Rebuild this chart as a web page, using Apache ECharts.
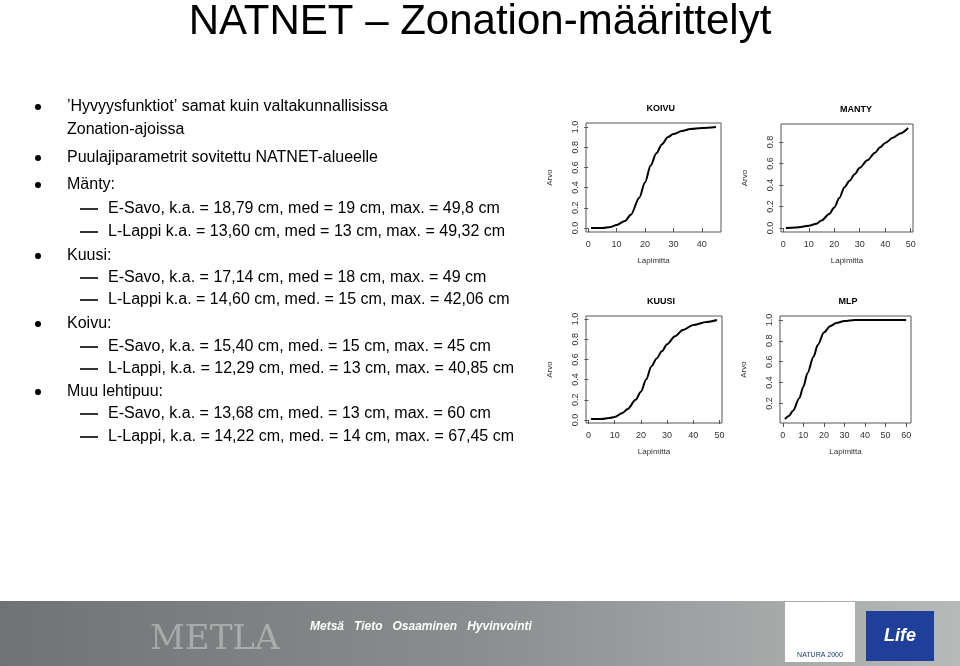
<!DOCTYPE html>
<html><head><meta charset="utf-8">
<script src="https://cdn.jsdelivr.net/npm/echarts@6/dist/echarts.min.js"></script>
<style>html,body{margin:0;padding:0;background:#fff}#c{width:960px;height:666px}</style>
</head><body><div id="c"></div>
<script>
const titles = ['KOIVU','MANTY','KUUSI','MLP'];
const koivuX = [1,5,8,10,13,15,18,20,22,24,26,28,30,33,36,40,45];
const koivuY = [0,0,0.01,0.03,0.07,0.13,0.3,0.45,0.62,0.74,0.83,0.9,0.93,0.96,0.98,0.99,1.0];
const mantyX = [1,5,10,13,15,18,20,22,24,26,28,30,33,36,38,40,43,46,49];
const mantyY = [0,0.005,0.02,0.04,0.07,0.13,0.19,0.28,0.38,0.44,0.5,0.56,0.63,0.7,0.75,0.79,0.84,0.88,0.93];
const kuusiX = [1,5,8,10,13,15,18,20,22,24,26,28,30,33,36,40,45,49];
const kuusiY = [0.01,0.01,0.02,0.03,0.07,0.11,0.2,0.28,0.4,0.53,0.61,0.68,0.75,0.83,0.89,0.94,0.97,0.99];
const mlpX = [1,3,5,8,10,12,15,17,20,23,26,30,35,40,50,60];
const mlpY = [0.05,0.08,0.13,0.25,0.36,0.49,0.65,0.76,0.88,0.94,0.97,0.99,1.0,1.0,1.0,1.0];
const xTicks = [[0,10,20,30,40],[0,10,20,30,40,50],[0,10,20,30,40,50],[0,10,20,30,40,50,60]];
const yTicks = [[0,0.2,0.4,0.6,0.8,1.0],[0,0.2,0.4,0.6,0.8],[0,0.2,0.4,0.6,0.8,1.0],[0.2,0.4,0.6,0.8,1.0]];
const seriesX = [koivuX, mantyX, kuusiX, mlpX];
const seriesY = [koivuY, mantyY, kuusiY, mlpY];

const bulletLines = [
 ['b','\u2019Hyvyysfunktiot\u2019 samat kuin valtakunnallisissa'],
 ['c','Zonation-ajoissa'],
 ['b','Puulajiparametrit sovitettu NATNET-alueelle'],
 ['b','Mänty:'],
 ['d','E-Savo, k.a. = 18,79 cm, med = 19 cm, max. = 49,8 cm'],
 ['d','L-Lappi k.a. = 13,60 cm, med = 13 cm, max. = 49,32 cm'],
 ['b','Kuusi:'],
 ['d','E-Savo, k.a. = 17,14 cm, med = 18 cm, max. = 49 cm'],
 ['d','L-Lappi k.a. = 14,60 cm, med. = 15 cm, max. = 42,06 cm'],
 ['b','Koivu:'],
 ['d','E-Savo, k.a. = 15,40 cm, med. = 15 cm, max. = 45 cm'],
 ['d','L-Lappi, k.a. = 12,29 cm, med. = 13 cm, max. = 40,85 cm'],
 ['b','Muu lehtipuu:'],
 ['d','E-Savo, k.a. = 13,68 cm, med. = 13 cm, max. = 60 cm'],
 ['d','L-Lappi, k.a. = 14,22 cm, med. = 14 cm, max. = 67,45 cm']
];
const lineY = [107,130,158,185,209,232,256,278,300,324,347,369,392,414,437];

const boxes = [
 {left:586,top:123,width:135,height:109},
 {left:781,top:124,width:132,height:108},
 {left:586,top:316,width:136,height:107},
 {left:780,top:316,width:131,height:107}
];
function pad(a,b){const p=(b-a)*0.04;return [a-p,b+p];}
const ranges = [
 {x:pad(1,45),y:pad(0,1)},
 {x:pad(1,49),y:pad(0,0.93)},
 {x:pad(1,49),y:pad(0.01,0.99)},
 {x:pad(1,60),y:pad(0.05,1)}
];
const font = 'Liberation Sans';
const grid=[],xAxis=[],yAxis=[],series=[],graphic=[];
boxes.forEach((b,i)=>{
 grid.push({left:b.left,top:b.top,width:b.width,height:b.height,show:true,borderColor:'#555',borderWidth:1,backgroundColor:'transparent'});
 xAxis.push({type:'value',gridIndex:i,min:ranges[i].x[0],max:ranges[i].x[1],splitLine:{show:false},axisLine:{show:false},
  axisTick:{show:true,length:4,customValues:xTicks[i],lineStyle:{color:'#555'}},
  axisLabel:{customValues:xTicks[i],fontSize:9,color:'#333',fontFamily:font,margin:8},
  name:'Lapimitta',nameLocation:'middle',nameGap:25,nameTextStyle:{fontSize:8,color:'#333',fontFamily:font}});
 yAxis.push({type:'value',gridIndex:i,min:ranges[i].y[0],max:ranges[i].y[1],splitLine:{show:false},axisLine:{show:false},
  axisTick:{show:true,length:4,customValues:yTicks[i],lineStyle:{color:'#555'}},
  axisLabel:{customValues:yTicks[i],fontSize:9,color:'#333',fontFamily:font,rotate:90,margin:6,formatter:v=>v.toFixed(1)},
  name:'Arvo',nameLocation:'middle',nameGap:32,nameRotate:90,nameTextStyle:{fontSize:8,color:'#333',fontFamily:font}});
 series.push({type:'line',xAxisIndex:i,yAxisIndex:i,smooth:0.3,smoothMonotone:'x',showSymbol:false,
  lineStyle:{color:'#000',width:2},data:seriesX[i].map((x,k)=>[x,seriesY[i][k]])});
});
const title=[{text:'NATNET \u2013 Zonation-määrittelyt',left:'center',top:-4,textStyle:{fontSize:42,fontWeight:'normal',color:'#000',fontFamily:font}}];
boxes.forEach((b,i)=>title.push({text:titles[i],left:b.left+b.width/2-12,top:b.top-24,textStyle:{fontSize:9,fontWeight:'bold',color:'#000',fontFamily:font}}));
bulletLines.forEach((l,k)=>{
 const y=lineY[k];
 if(l[0]==='b') graphic.push({type:'circle',shape:{cx:38,cy:y,r:3},style:{fill:'#000'}});
 if(l[0]==='d') graphic.push({type:'rect',shape:{x:80,y:y-0.8,width:18,height:1.6},style:{fill:'#000'}});
 graphic.push({type:'text',x:l[0]==='d'?108:67,y:y,style:{text:l[1],fontSize:16,fontFamily:font,fill:'#000',textVerticalAlign:'middle'}});
});
graphic.push({type:'rect',shape:{x:0,y:601,width:960,height:65},style:{fill:new echarts.graphic.LinearGradient(0,0,1,0,[{offset:0,color:'#6f7373'},{offset:0.5,color:'#8a8e8e'},{offset:1,color:'#b8baba'}])}});
graphic.push({type:'text',x:150,y:640,style:{text:'METLA',fontSize:34,fontFamily:'DejaVu Serif',fill:'rgba(255,255,255,0.35)',textVerticalAlign:'middle'}});
graphic.push({type:'text',x:310,y:627,style:{text:'Metsä   Tieto   Osaaminen   Hyvinvointi',fontSize:12,fontStyle:'italic',fontWeight:'bold',fontFamily:font,fill:'#fff',textVerticalAlign:'middle'}});
graphic.push({type:'rect',shape:{x:785,y:602,width:70,height:60},style:{fill:'#fff'}});
graphic.push({type:'text',x:820,y:655,style:{text:'NATURA 2000',fontSize:7,fontFamily:font,fill:'#1a3d7a',textAlign:'center',textVerticalAlign:'middle'}});
graphic.push({type:'rect',shape:{x:866,y:611,width:68,height:50},style:{fill:'#1f3f9a'}});
graphic.push({type:'text',x:900,y:636,style:{text:'Life',fontSize:18,fontStyle:'italic',fontWeight:'bold',fontFamily:font,fill:'#fff',textAlign:'center',textVerticalAlign:'middle'}});
const chart=echarts.init(document.getElementById('c'));
chart.setOption({animation:false,title,grid,xAxis,yAxis,series,graphic});
</script></body></html>
